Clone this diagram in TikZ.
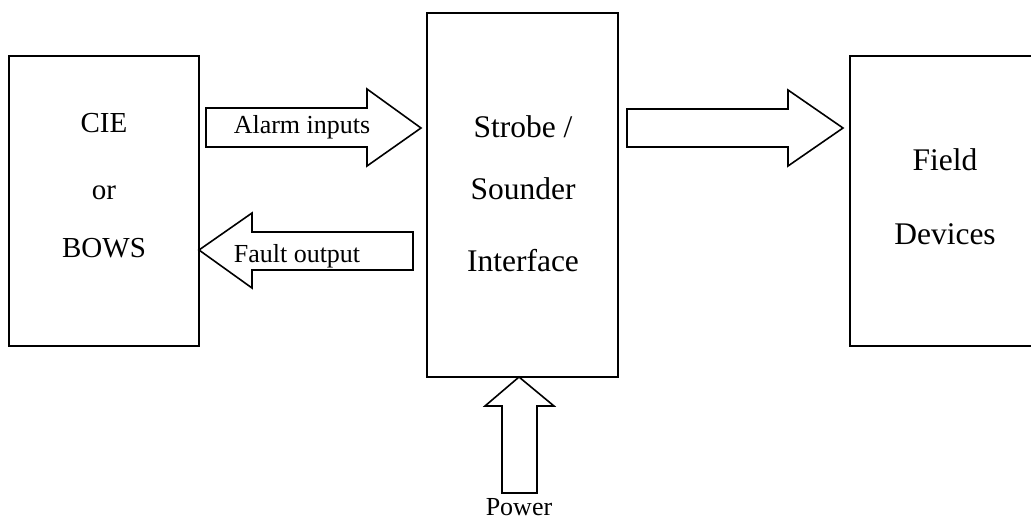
\documentclass[tikz,border=0pt]{standalone}
\usepackage{fontspec}
\setmainfont{Liberation Serif}
\begin{document}
\begin{tikzpicture}[x=1pt,y=-1pt,
  boxline/.style={draw=black,line width=1.6pt},
  blockarrow/.style={draw=black,line width=1.6pt,line join=miter,fill=white},
  lbl/.style={anchor=base,inner sep=0pt,font=\fontsize{26}{30}\selectfont},
  boxtxt/.style={anchor=base,inner sep=0pt,font=\fontsize{31.5}{36}\selectfont},
  cietxt/.style={anchor=base,inner sep=0pt,font=\fontsize{29}{34}\selectfont}]
\useasboundingbox (0,0) rectangle (1031,520);
\clip (0,0) rectangle (1031,520);
% boxes
\draw[boxline] (9,56) rectangle (199,346);
\draw[boxline] (427,13) rectangle (618,377);
\draw[boxline] (850,56) rectangle (1045,346);
% box texts
\node[cietxt] (cie) at (104,132) {CIE};
\node[cietxt] (or) at (104,199) {or};
\node[cietxt] (bows) at (104,257) {BOWS};
\node[boxtxt] (strobe) at (523,137) {Strobe /};
\node[boxtxt] (sounder) at (523,199) {Sounder};
\node[boxtxt] (interface) at (523,271) {Interface};
\node[boxtxt] (field) at (945,170) {Field};
\node[boxtxt] (devices) at (945,244) {Devices};
% alarm inputs arrow
\draw[blockarrow] (206,108) -- (367,108) -- (367,89) -- (421,128) -- (367,166) -- (367,147) -- (206,147) -- cycle;
\node[lbl] (alarm) at (302,133) {Alarm inputs};
% fault output arrow
\draw[blockarrow] (413,232) -- (252,232) -- (252,213) -- (199,250) -- (252,288) -- (252,270) -- (413,270) -- cycle;
\node[lbl] (fault) at (297,262) {Fault output};
% output arrow to field devices
\draw[blockarrow] (627,109) -- (788,109) -- (788,90) -- (843,128) -- (788,166) -- (788,147) -- (627,147) -- cycle;
% power arrow
\draw[blockarrow] (502,493) -- (502,406) -- (485,406) -- (519,377) -- (554,406) -- (537,406) -- (537,493) -- cycle;
\node[lbl] (power) at (519,515) {Power};
\end{tikzpicture}
\end{document}
